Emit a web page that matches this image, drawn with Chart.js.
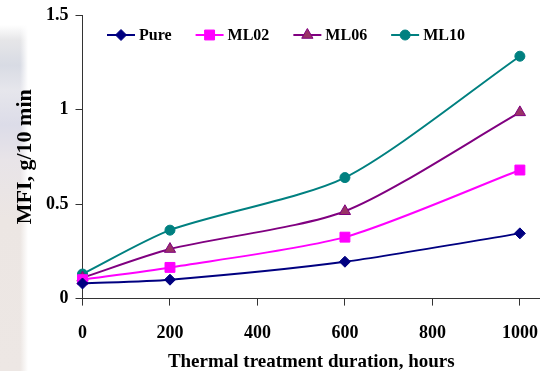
<!DOCTYPE html>
<html>
<head>
<meta charset="utf-8">
<script src="https://cdn.jsdelivr.net/npm/chart.js@4"></script>
<style>
  html, body { margin: 0; padding: 0; background: #ffffff; }
  #wrap { position: relative; width: 540px; height: 371px; overflow: hidden; }
  #strip { position: absolute; left: 0; top: 0; width: 30px; height: 371px;
    background:
      linear-gradient(to right, rgba(255,255,255,0) 0px, rgba(255,255,255,0) 20px, #ffffff 28px),
      linear-gradient(to bottom, #ffffff 0px, #ffffff 25px, #e6e6e8 40px, #d8dbe4 65px, #e6e6ec 90px, #dcdce8 125px, #e8e4e8 160px, #ece6e3 220px, #ede7e4 371px);
  }
  canvas { position: absolute; left: 0; top: 0; }
</style>
</head>
<body>
<div id="wrap">
  <div id="strip"></div>
  <canvas id="c" width="540" height="371"></canvas>
</div>
<script>
// ---- Data ----
const hours = [0, 200, 600, 1000];
const pure  = [0.08, 0.10, 0.195, 0.345];
const ml02  = [0.10, 0.165, 0.325, 0.68];
const ml06  = [0.11, 0.262, 0.462, 0.985];
const ml10  = [0.13, 0.362, 0.64, 1.282];
const seriesNames = ['Pure', 'ML02', 'ML06', 'ML10'];
const xTicks = [0, 200, 400, 600, 800, 1000];
const yTicks = [0, 0.5, 1, 1.5];

const FONT = "'Liberation Serif', 'Times New Roman', serif";

const styles = [
  { line: '#000080', fill: '#000080', shape: 'rectRot', r: 5.5 },
  { line: '#FF00FF', fill: '#FF00FF', shape: 'rect', r: 7 },
  { line: '#800080', fill: '#993366', shape: 'triangle', r: 6.5 },
  { line: '#008080', fill: '#008080', shape: 'circle', r: 5 }
];

function pts(vals) { return hours.map((h, i) => ({ x: h, y: vals[i] })); }
const allVals = [pure, ml02, ml06, ml10];

function drawMarker(ctx, shape, x, y, r) {
  ctx.beginPath();
  if (shape === 'rectRot') {
    ctx.moveTo(x - r, y); ctx.lineTo(x, y - r); ctx.lineTo(x + r, y); ctx.lineTo(x, y + r);
  } else if (shape === 'rect') {
    const s = Math.SQRT1_2 * r; ctx.rect(x - s, y - s, 2 * s, 2 * s);
  } else if (shape === 'triangle') {
    for (let k = 0; k < 3; k++) {
      const a = k * 2 * Math.PI / 3;
      const px = x + Math.sin(a) * r, py = y - Math.cos(a) * r;
      if (k === 0) ctx.moveTo(px, py); else ctx.lineTo(px, py);
    }
  } else {
    ctx.arc(x, y, r, 0, Math.PI * 2);
  }
  ctx.closePath();
  ctx.fill();
  ctx.stroke();
}

// Legend drawn inside the plot area, in one row (like the Excel legend)
const inlineLegend = {
  id: 'inlineLegend',
  afterDraw(chart) {
    const ctx = chart.ctx;
    const area = chart.chartArea;
    let x = area.left + 24.5;
    const y = area.top + 20;
    ctx.save();
    ctx.font = "bold 16px " + FONT;
    ctx.textBaseline = 'middle';
    ctx.textAlign = 'left';
    chart.data.datasets.forEach((ds, i) => {
      const st = styles[i];
      ctx.strokeStyle = st.line; ctx.lineWidth = 2;
      ctx.beginPath(); ctx.moveTo(x, y); ctx.lineTo(x + 28, y); ctx.stroke();
      ctx.fillStyle = st.fill; ctx.strokeStyle = st.line; ctx.lineWidth = 1;
      drawMarker(ctx, st.shape, x + 14, y, st.r);
      ctx.fillStyle = '#000';
      const tx = x + 32;
      ctx.fillText(ds.label, tx, y + 1);
      x = tx + ctx.measureText(ds.label).width + 24;
    });
    ctx.restore();
  }
};

const datasets = seriesNames.map((name, i) => ({
  label: name,
  data: pts(allVals[i]),
  borderColor: styles[i].line,
  backgroundColor: styles[i].fill,
  pointBackgroundColor: styles[i].fill,
  pointBorderColor: styles[i].line,
  pointBorderWidth: 1,
  pointStyle: styles[i].shape,
  pointRadius: styles[i].r,
  pointHoverRadius: styles[i].r,
  borderWidth: 2,
  tension: 0.25,
  fill: false,
  clip: false
}));

new Chart(document.getElementById('c'), {
  type: 'line',
  data: { datasets },
  plugins: [inlineLegend],
  options: {
    responsive: false,
    animation: false,
    events: [],
    layout: { autoPadding: false, padding: { top: 15, right: 0, left: 0, bottom: 0 } },
    plugins: {
      tooltip: { enabled: false },
      legend: { display: false }
    },
    scales: {
      x: {
        type: 'linear',
        min: 0,
        max: 1046,
        afterBuildTicks: (s) => { s.ticks = xTicks.map(v => ({ value: v })); },
        afterFit: (s) => { s.height = 72.4; s.paddingLeft = 0; s.paddingRight = 0; },
        ticks: {
          color: '#000',
          padding: 17,
          maxRotation: 0,
          font: { family: FONT, size: 18, weight: 'bold' },
          callback: (v) => String(v)
        },
        grid: { display: true, drawOnChartArea: false, drawTicks: true, tickLength: 7, color: '#333', lineWidth: 1 },
        border: { display: true, color: '#333', width: 1 },
        title: {
          display: true,
          text: 'Thermal treatment duration, hours',
          color: '#000',
          font: { family: FONT, size: 19, weight: 'bold' },
          padding: { top: 0, bottom: -2 }
        }
      },
      y: {
        type: 'linear',
        min: 0,
        max: 1.5,
        afterBuildTicks: (s) => { s.ticks = yTicks.map(v => ({ value: v })); },
        afterFit: (s) => { s.width = 82.5; s.paddingTop = 0; s.paddingBottom = 0; },
        ticks: {
          color: '#000',
          padding: 7,
          font: { family: FONT, size: 18, weight: 'bold' },
          callback: (v) => String(v)
        },
        grid: { display: true, drawOnChartArea: false, drawTicks: true, tickLength: 7, color: '#333', lineWidth: 1 },
        border: { display: true, color: '#333', width: 1 },
        title: {
          display: true,
          text: 'MFI, g/10 min',
          color: '#000',
          font: { family: FONT, size: 22, weight: 'bold' },
          padding: { top: 12, bottom: 0 }
        }
      }
    }
  }
});
</script>
</body>
</html>
